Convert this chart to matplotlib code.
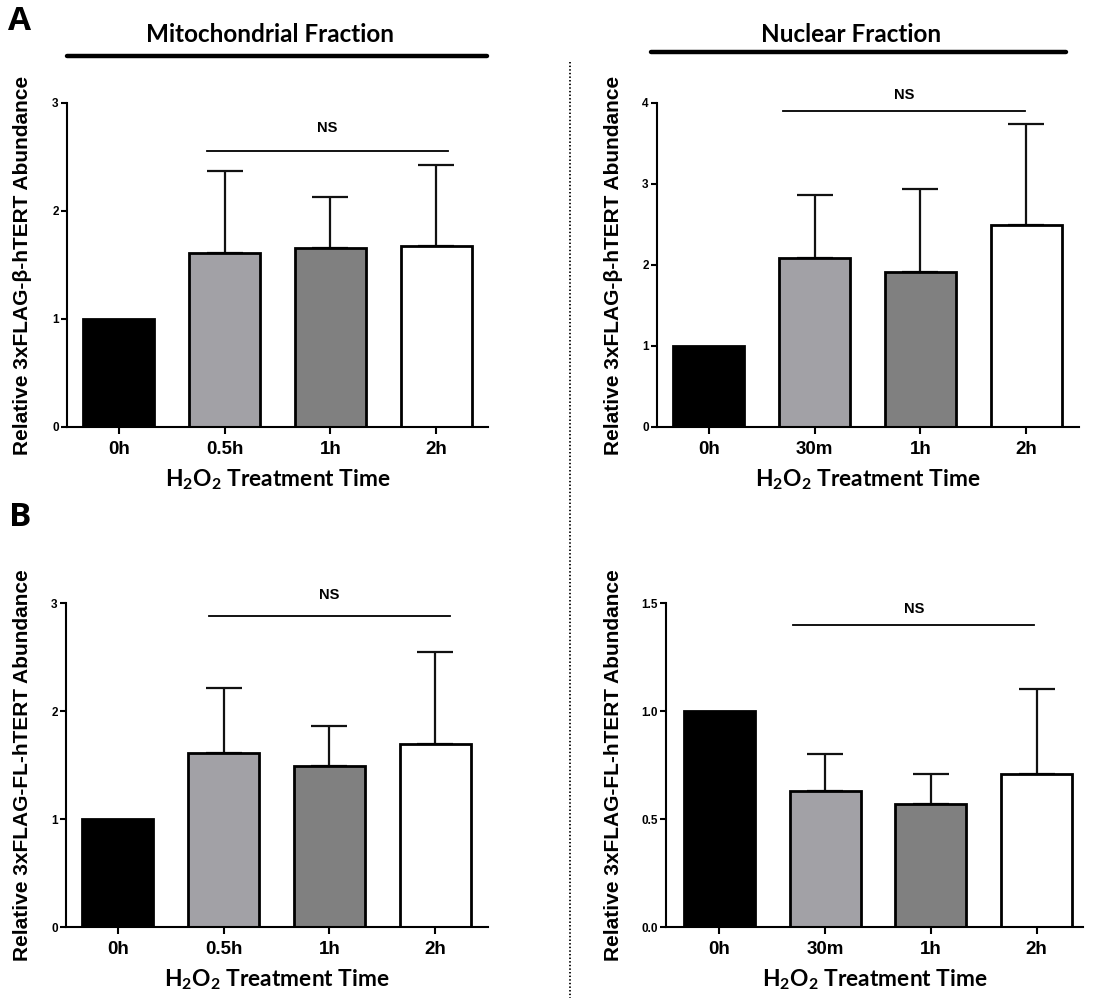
import matplotlib
matplotlib.use("Agg")
import matplotlib.pyplot as plt
from matplotlib.lines import Line2D

plt.rcParams['font.family'] = ['Liberation Sans', 'DejaVu Sans']
plt.rcParams['mathtext.default'] = 'regular'

# ---------------- data ----------------
cats_mito = ["0h", "0.5h", "1h", "2h"]
cats_nuc = ["0h", "30m", "1h", "2h"]

mito_beta_mean = [1.00, 1.61, 1.66, 1.68]
mito_beta_err = [0.00, 0.76, 0.47, 0.75]

nuc_beta_mean = [1.00, 2.09, 1.91, 2.49]
nuc_beta_err = [0.00, 0.78, 1.03, 1.25]

mito_fl_mean = [1.00, 1.61, 1.49, 1.69]
mito_fl_err = [0.00, 0.60, 0.37, 0.86]

nuc_fl_mean = [1.00, 0.63, 0.57, 0.71]
nuc_fl_err = [0.00, 0.17, 0.14, 0.39]

bar_colors = ["#000000", "#A2A1A6", "#808080", "#FFFFFF"]

ylabel_beta = "Relative 3xFLAG-\u03b2-hTERT Abundance"
ylabel_fl = "Relative 3xFLAG-FL-hTERT Abundance"
xlabel = r"H$_2$O$_2$ Treatment Time"

W, H = 1117, 998
fig = plt.figure(figsize=(W / 100, H / 100), dpi=100)

def px_axes(x0, x1, ytop, ybot):
    return fig.add_axes([x0 / W, 1 - ybot / H, (x1 - x0) / W, (ybot - ytop) / H])

panels = [
    dict(box=(67, 488, 103, 427), cats=cats_mito, mean=mito_beta_mean, err=mito_beta_err,
         yticks=[0, 1, 2, 3], ytl=["0", "1", "2", "3"], ylabel=ylabel_beta,
         xlim=(-0.49, 3.49), ns=(0.83, 3.11), nsy=2.56, nsty=2.70, lx=-0.105),
    dict(box=(657, 1079, 103, 427), cats=cats_nuc, mean=nuc_beta_mean, err=nuc_beta_err,
         yticks=[0, 1, 2, 3, 4], ytl=["0", "1", "2", "3", "4"], ylabel=ylabel_beta,
         xlim=(-0.49, 3.50), ns=(0.70, 2.99), nsy=3.90, nsty=4.01, lx=-0.104),
    dict(box=(66, 488, 603, 927), cats=cats_mito, mean=mito_fl_mean, err=mito_fl_err,
         yticks=[0, 1, 2, 3], ytl=["0", "1", "2", "3"], ylabel=ylabel_fl,
         xlim=(-0.49, 3.50), ns=(0.86, 3.14), nsy=2.88, nsty=3.01, lx=-0.104),
    dict(box=(666, 1083, 603, 927), cats=cats_nuc, mean=nuc_fl_mean, err=nuc_fl_err,
         yticks=[0, 0.5, 1.0, 1.5], ytl=["0.0", "0.5", "1.0", "1.5"], ylabel=ylabel_fl,
         xlim=(-0.506, 3.44), ns=(0.70, 2.98), nsy=1.40, nsty=1.44, lx=-0.127),
]

for p in panels:
    ax = px_axes(*p["box"])
    x = list(range(len(p["cats"])))
    ax.bar(x, p["mean"], width=0.67, color=bar_colors, edgecolor="black",
           linewidth=2.0, zorder=2)
    for xi, m, e in zip(x, p["mean"], p["err"]):
        if e > 0:
            ax.errorbar([xi], [m], yerr=[[0], [e]], fmt="none", ecolor="#111111",
                        elinewidth=1.6, capsize=13, capthick=1.6, zorder=1)
    ax.set_xlim(*p["xlim"])
    ax.set_ylim(0, p["yticks"][-1])
    ax.set_yticks(p["yticks"])
    ax.set_yticklabels(p["ytl"], fontsize=8.5, fontweight="bold")
    ax.set_xticks(x)
    ax.set_xticklabels(p["cats"], fontsize=13.5, fontweight="bold")
    for s in ["top", "right"]:
        ax.spines[s].set_visible(False)
    for s in ["left", "bottom"]:
        ax.spines[s].set_linewidth(1.5)
    ax.tick_params(axis="y", length=4, width=1.5, pad=2)
    ax.tick_params(axis="x", length=5, width=1.5, pad=5)
    ax.set_ylabel(p["ylabel"], fontsize=15, fontweight="bold", va="center")
    ax.yaxis.set_label_coords(p["lx"], 0.5)
    ax.set_xlabel(xlabel, fontsize=16.4, fontweight="bold", family="Lato", labelpad=7)
    # NS bracket
    ax.plot(p["ns"], [p["nsy"], p["nsy"]], color="black", lw=1.3, clip_on=False)
    ax.text(sum(p["ns"]) / 2, p["nsty"], "NS", ha="center", va="bottom",
            fontsize=10.5, fontweight="bold")

# section titles and thick lines
fig.text(270 / W, 1 - 35 / H, "Mitochondrial Fraction", ha="center", va="center",
         fontsize=17.5, fontweight="bold", family="Lato")
fig.text(851 / W, 1 - 35 / H, "Nuclear Fraction", ha="center", va="center",
         fontsize=17.5, fontweight="bold", family="Lato")
fig.add_artist(Line2D([67 / W, 487 / W], [1 - 56 / H, 1 - 56 / H], color="black",
                      lw=3.2, solid_capstyle="round"))
fig.add_artist(Line2D([651 / W, 1066 / W], [1 - 52 / H, 1 - 52 / H], color="black",
                      lw=3.2, solid_capstyle="round"))
# dotted divider
fig.add_artist(Line2D([570 / W, 570 / W], [1 - 62 / H, 0], color="black",
                      lw=1.3, linestyle=(0, (0.8, 1.2))))
# panel letters
fig.text(20 / W, 1 - 22 / H, "A", ha="center", va="center", fontsize=24,
         fontweight="bold", family="Open Sans")
fig.text(20 / W, 1 - 517 / H, "B", ha="center", va="center", fontsize=24,
         fontweight="bold", family="Open Sans")

fig.savefig("out.png", dpi=100, facecolor="white")
